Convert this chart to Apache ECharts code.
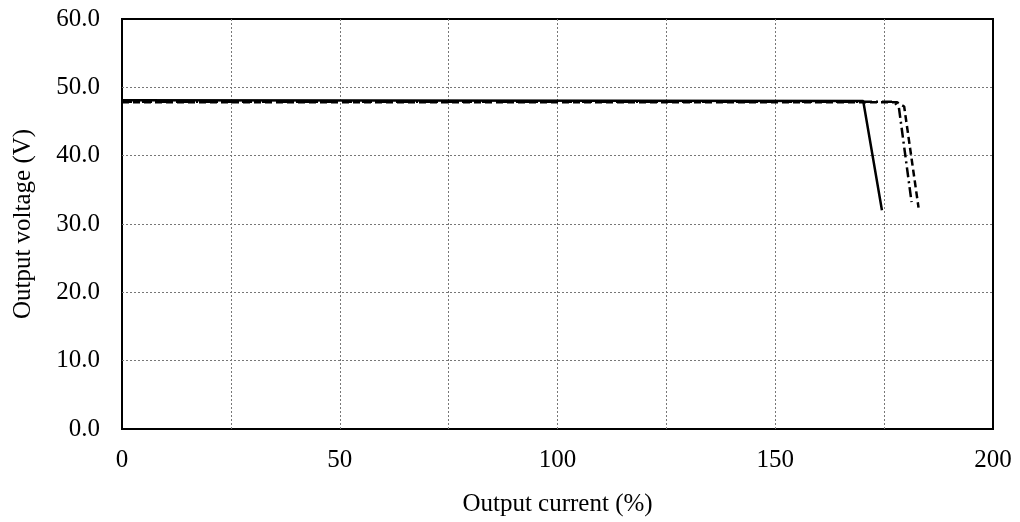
<!DOCTYPE html>
<html><head><meta charset="utf-8">
<script src="https://cdn.jsdelivr.net/npm/echarts@6/dist/echarts.min.js"></script>
<style>html,body{margin:0;padding:0;background:#fff}#c{width:1020px;height:522px}</style>
</head><body><div id="c"></div>
<script>
const solidX = [0, 170.2, 174.5];
const solidY = [48.1, 48.0, 32.0];
const dashX = [0, 178.0, 179.6, 182.9];
const dashY = [47.8, 47.8, 47.2, 32.4];
const dotDashX = [0, 177.3, 178.4, 181.3];
const dotDashY = [47.9, 47.9, 47.0, 33.2];
const xTicks = [0, 50, 100, 150, 200];
const yTicks = [0, 10, 20, 30, 40, 50, 60];

const pair = (xs, ys) => xs.map((x, i) => [x, ys[i]]);
const font = 'Liberation Serif, Times New Roman, serif';
const chart = echarts.init(document.getElementById('c'));
chart.setOption({
  animation: false,
  grid: {left: 122, right: 27, top: 19, bottom: 93, show: true, borderColor: '#000', borderWidth: 2},
  xAxis: {
    type: 'value', min: 0, max: 200, interval: 25,
    name: 'Output current (%)', nameLocation: 'middle', nameGap: 63,
    nameTextStyle: {fontFamily: font, fontSize: 25, color: '#000'},
    axisLine: {show: false}, axisTick: {show: false},
    axisLabel: {fontFamily: font, fontSize: 25, color: '#000', margin: 19,
      formatter: v => xTicks.includes(v) ? String(v) : ''},
    splitLine: {show: true, showMinLine: false, showMaxLine: false, lineStyle: {color: '#777', type: [2, 2], width: 1}}
  },
  yAxis: {
    type: 'value', min: 0, max: 60, interval: 10,
    name: 'Output voltage (V)', nameLocation: 'middle', nameGap: 86, nameRotate: 90,
    nameTextStyle: {fontFamily: font, fontSize: 25, color: '#000'},
    axisLine: {show: false}, axisTick: {show: false},
    axisLabel: {fontFamily: font, fontSize: 25, color: '#000', margin: 22,
      formatter: v => yTicks.includes(v) ? v.toFixed(1) : ''},
    splitLine: {show: true, showMinLine: false, showMaxLine: false, lineStyle: {color: '#777', type: [2, 2], width: 1}}
  },
  series: [
    {type: 'line', data: pair(solidX, solidY), symbol: 'none', lineStyle: {color: '#000', width: 2.5, type: 'solid'}},
    {type: 'line', data: pair(dotDashX, dotDashY), symbol: 'none', lineStyle: {color: '#000', width: 2.5, type: [10, 4, 2, 4]}},
    {type: 'line', data: pair(dashX, dashY), symbol: 'none', lineStyle: {color: '#000', width: 2.5, type: [7, 4]}}
  ]
});
</script></body></html>
